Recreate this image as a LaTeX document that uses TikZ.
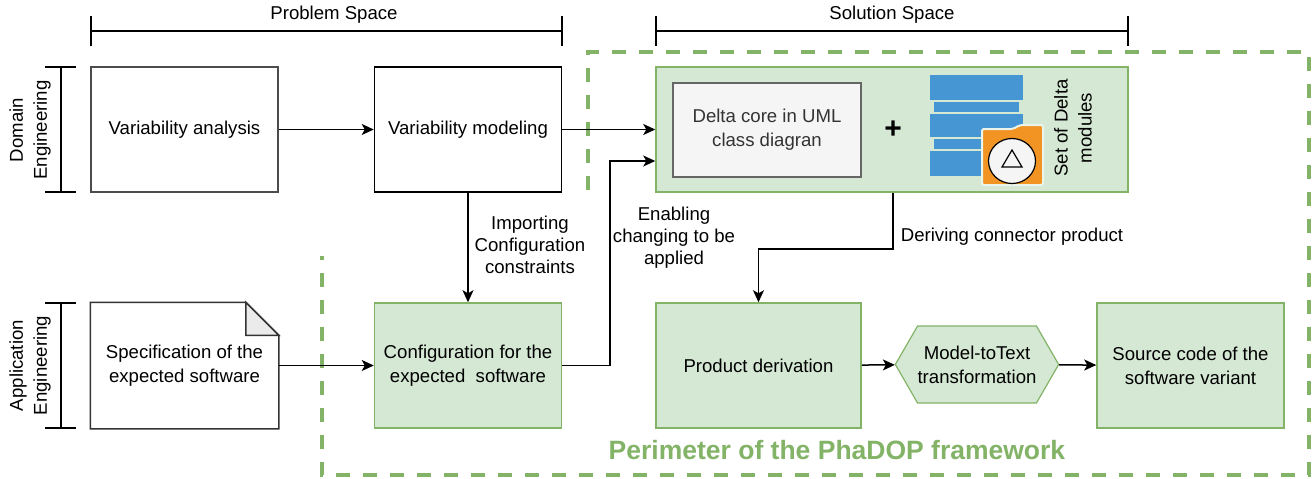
\documentclass[tikz,border=0pt]{standalone}
\usepackage{fontspec}
\setmainfont{Liberation Sans}
\usetikzlibrary{arrows.meta,shapes.symbols,positioning,calc}
\definecolor{boxgreen}{HTML}{D5E8D4}
\definecolor{linegreen}{HTML}{82B366}
\definecolor{iconblue}{HTML}{4596D2}
\definecolor{iconorange}{HTML}{F29423}

\begin{document}
\begin{tikzpicture}[x=1pt,y=-1pt,
	every node/.style={font=\fontsize{18.6}{24}\selectfont,align=center},
	plainbox/.style={draw=black,rectangle,line width=1.5pt,fill=white,minimum width=187pt,minimum height=125pt,inner sep=0pt},
	greenbox/.style={plainbox,draw=linegreen,fill=boxgreen},
	flow/.style={-{Stealth[length=12pt,width=11pt,inset=3pt]},line width=1.5pt},
	edgelabel/.style={font=\fontsize{18.6}{22}\selectfont},
	bracket/.style={line width=1.5pt}]
	\useasboundingbox (0,0) rectangle (1314,479);

	% perimeter of the framework
	\draw[linegreen,line width=4pt,dash pattern=on 14pt off 13pt] (588,190) -- (588,52) -- (1309,52) -- (1309,475) -- (322,475) -- (322,256);
	\node[font=\bfseries\fontsize{26.5}{30}\selectfont,text=linegreen] (perim) at (837,450) {Perimeter of the PhaDOP framework};

	% spaces
	\draw[bracket] (91,16) -- (91,46) (562,16) -- (562,46) (91,31) -- (562,31);
	\node (ps) at (334,15) {Problem Space};
	\draw[bracket] (656,16) -- (656,46) (1128,16) -- (1128,46) (656,31) -- (1128,31);
	\node (ss) at (892,15) {Solution Space};
	\draw[bracket] (45,67) -- (76,67) (45,192) -- (76,192) (61,67) -- (61,192);
	\node[rotate=90] (de) at (30,130) {Domain\\Engineering};
	\draw[bracket] (45,303) -- (76,303) (45,428) -- (76,428) (61,303) -- (61,428);
	\node[rotate=90] (ae) at (30,365.5) {Application\\Engineering};

	% domain engineering
	\node[plainbox,draw=black!70] (va) at (184.5,129.5) {Variability analysis};
	\node[plainbox] (vm) at (468,129.5) {Variability modeling};
	\node[greenbox,minimum width=472pt] (delta) at (892,129.5) {};
	\node[draw=black!60,fill=black!4,line width=1.5pt,minimum width=188pt,minimum height=94pt,text=black!80] (core) at (767,130) {Delta core in UML\\class diagran};
	\node[font=\bfseries\fontsize{30}{30}\selectfont] (plus) at (893,130) {+};
	\fill[iconblue] (930,75) rectangle (1023,100);
	\fill[iconblue] (934,102) rectangle (1019,112);
	\fill[iconblue] (930,114) rectangle (1023,137);
	\fill[iconblue] (934,139) rectangle (1019,149);
	\fill[iconblue] (930,151) rectangle (1023,176);
	\draw[boxgreen!50!white,line width=2pt,fill=iconorange,rounded corners=2pt] (982,129) -- (1013,129) -- (1020,125) -- (1043,125) -- (1043,185) -- (982,185) -- cycle;
	\draw[fill=black!4,line width=1.2pt] (1012,161) ellipse [x radius=23.5,y radius=22.5];
	\draw[line width=1.2pt] (1002,167) -- (1022,167) -- (1012,150) -- cycle;
	\node[rotate=90] (setlabel) at (1073,128) {Set of Delta\\modules};

	% application engineering
	\node[plainbox,draw=none,fill=none] (spec) at (184.5,365.5) {Specification of the\\expected software};
	\draw[line width=1.5pt,draw=black!80] (spec.north west) -- ($(spec.north east)+(-33,0)$) -- ($(spec.north east)+(0,33)$) -- (spec.south east) -- (spec.south west) -- cycle;
	\draw[line width=1.5pt,draw=black!80,fill=black!8] ($(spec.north east)+(-33,0)$) -- ($(spec.north east)+(-33,33)$) -- ($(spec.north east)+(0,33)$) -- cycle;
	\node[greenbox] (cfg) at (468,365.5) {Configuration for the\\expected\ \ software};
	\node[greenbox,minimum width=205pt] (pd) at (758.5,365.5) {Product derivation};
	\node[signal,signal to=west and east,signal pointer angle=120,draw=linegreen,fill=boxgreen,line width=1.2pt,minimum width=158pt,minimum height=77pt,inner sep=0pt] (m2t) at (977,364.5) {Model-toText\\transformation};
	\node[greenbox] (src) at (1190.5,365.5) {Source code of the\\software variant};

	% connectors
	\draw[flow] (va) -- (vm);
	\draw[flow] (vm) -- (delta);
	\draw[flow] (vm) -- (cfg);
	\node[edgelabel] (imp) at (530,245) {Importing\\Configuration\\constraints};
	\draw[flow] (spec) -- (cfg);
	\coordinate (bend) at (610,161);
	\draw[flow] (cfg.east) -| (bend) -- (bend -| delta.west);
	\node[edgelabel] (enab) at (674,238) {Enabling\\changing to be\\applied};
	\draw[flow] (plus |- delta.south) -- ++(0,56) -| (pd.north);
	\node[edgelabel] (der) at (1012,237) {Deriving connector product};
	\draw[flow] (pd) -- (m2t);
	\draw[flow] (m2t) -- (src);
\end{tikzpicture}
\end{document}
